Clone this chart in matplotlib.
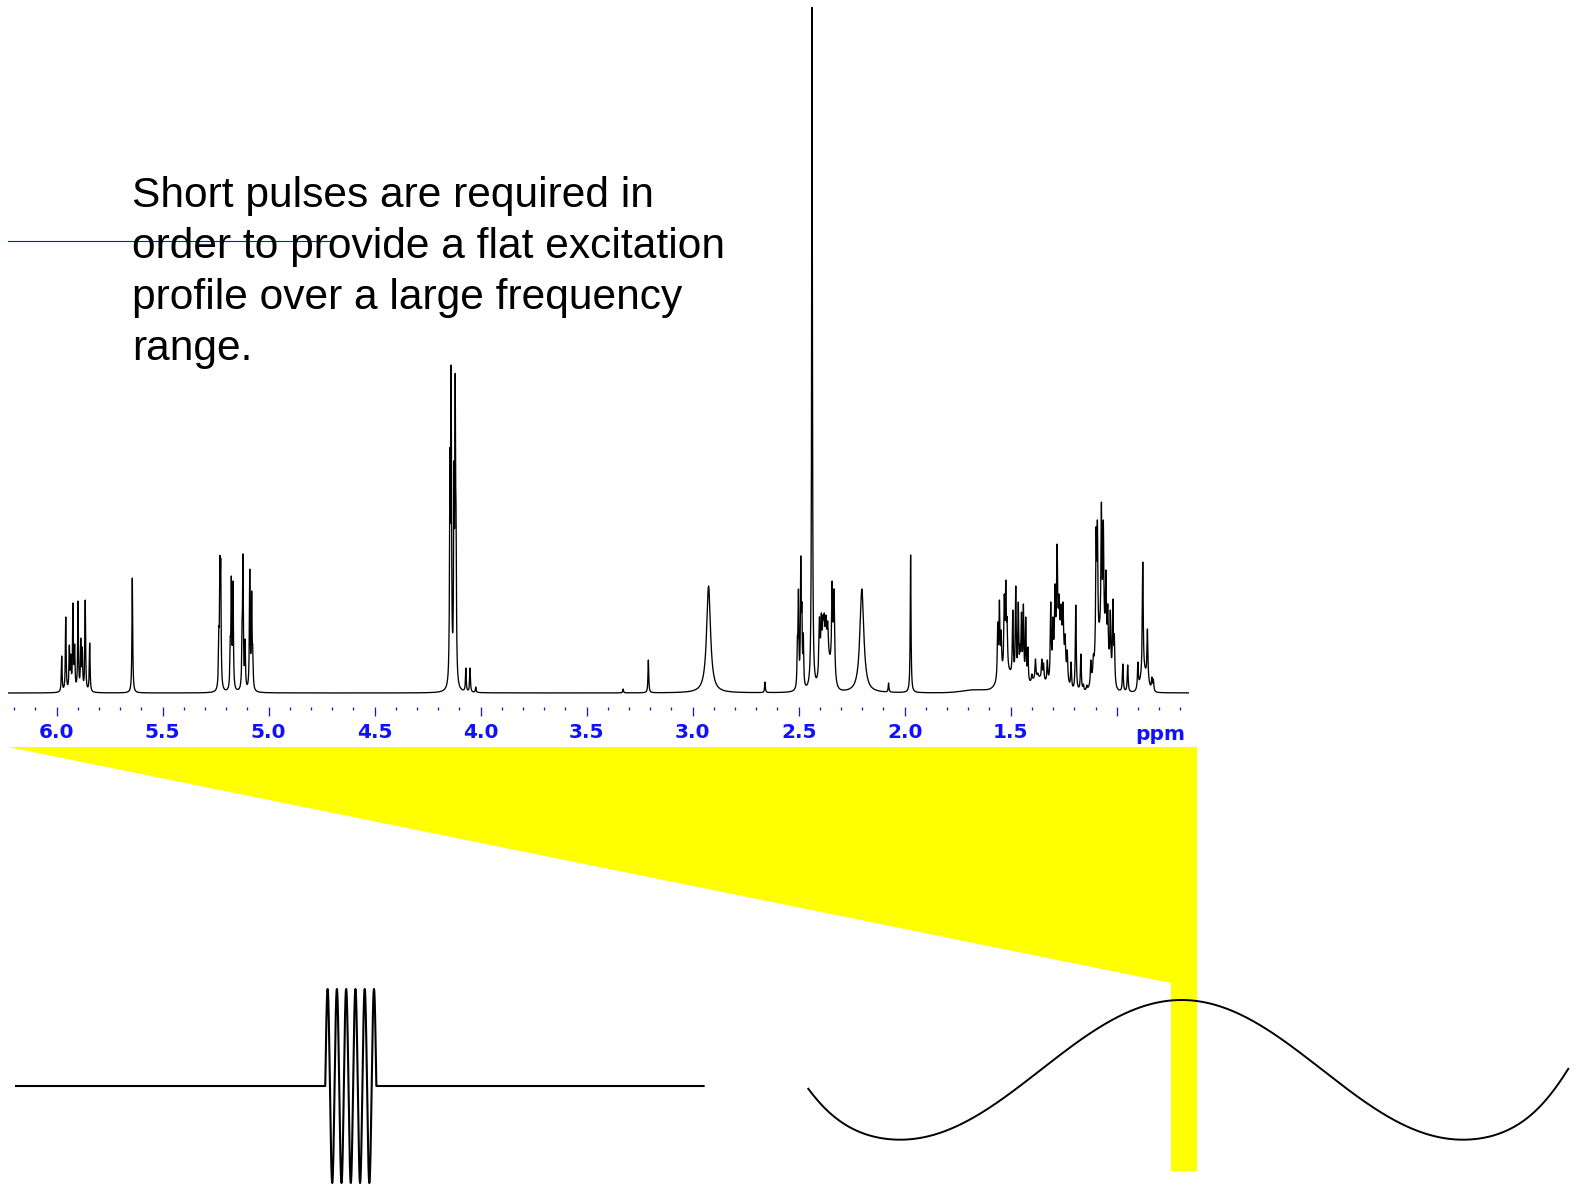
import numpy as np
import matplotlib
matplotlib.use("Agg")
import matplotlib.pyplot as plt
from matplotlib.patches import Polygon

W, H = 1576, 1185

# ---------------------------------------------------------------------------
# 1H NMR spectrum: line positions (ppm) and peak heights (arbitrary units)
# ---------------------------------------------------------------------------
vinyl_ppm = [5.976, 5.957, 5.940, 5.933, 5.923, 5.915, 5.899, 5.886, 5.879, 5.865, 5.844]
vinyl_h = [37, 76, 48, 39, 90, 49, 92, 55, 46, 93, 50]

olefin_ppm = [5.643, 5.235, 5.230, 5.226, 5.181, 5.176, 5.168,
              5.125, 5.121, 5.111, 5.089, 5.080, 5.075]
olefin_h = [115, 66, 137, 134, 56, 117, 112, 79, 139, 54, 124, 102, 48]

ester_ppm = [4.145, 4.139, 4.126, 4.120, 4.116, 4.070, 4.050, 4.023]
ester_h = [245, 328, 232, 320, 185, 25, 25, 6]

mid_ppm = [3.328, 3.209, 2.659, 2.506, 2.501, 2.490, 2.485, 2.478, 2.437,
           2.076, 1.972]
mid_h = [4, 33, 11, 57, 104, 137, 91, 60, 686, 10, 138]

allyl_ppm = [2.402, 2.393, 2.385, 2.379, 2.371, 2.363, 2.342, 2.333]
allyl_h = [76, 80, 78, 80, 78, 72, 112, 104]

broad_ppm = [2.925, 2.202]
broad_h = [107, 104]

alkyl_ppm = [1.561, 1.553, 1.545, 1.530, 1.523, 1.517, 1.490, 1.476, 1.464, 1.456,
             1.449, 1.440, 1.429, 1.419, 1.400, 1.383, 1.372, 1.353, 1.345, 1.327,
             1.311, 1.301, 1.291, 1.281, 1.272, 1.262, 1.253, 1.243, 1.233, 1.215,
             1.193, 1.169, 1.157, 1.141, 1.122, 1.110, 1.097, 1.091, 1.072, 1.063,
             1.051, 1.042, 1.030, 1.018, 1.011, 0.971, 0.948, 0.900, 0.877, 0.855,
             0.834, 0.827]
alkyl_h = [71, 93, 63, 99, 113, 76, 83, 107, 91, 49,
           81, 89, 76, 46, 19, 34, 20, 34, 30, 33,
           91, 76, 109, 149, 99, 89, 91, 59, 43, 31,
           88, 39, 9, 8, 33, 39, 166, 173, 191, 173,
           123, 89, 83, 94, 59, 29, 28, 31, 131, 64,
           16, 14]

# unresolved envelopes under the crowded multiplets
hump_ppm = [2.37, 1.52, 1.37, 1.27, 1.07, 0.87, 1.66]
hump_h = [32, 18, 14, 55, 55, 18, 3]
hump_fwhm = [0.05, 0.08, 0.08, 0.05, 0.06, 0.04, 0.15]

# axis ticks
major_ticks = [6.0, 5.5, 5.0, 4.5, 4.0, 3.5, 3.0, 2.5, 2.0, 1.5, 1.0]
major_labels = ["6.0", "5.5", "5.0", "4.5", "4.0", "3.5", "3.0", "2.5", "2.0", "1.5", ""]
minor_ticks = [round(0.7 + 0.1 * i, 1) for i in range(56)]
ppm_left, ppm_right = 6.228, 0.659

caption_lines = ["Short pulses are required in",
                 "order to provide a flat excitation",
                 "profile over a large frequency",
                 "range."]

# pulse sketch (time domain) and its excitation profile
pulse_on, pulse_off, pulse_cycles = 0.4498, 0.524, 5.5
profile_start, profile_end = -0.163, 1.187   # in cycles of the profile
profile_edge_steepening = 10.0


def lorentz(x, x0, fwhm):
    return 1.0 / (1.0 + ((x - x0) / (fwhm / 2.0)) ** 2)


def gauss(x, x0, fwhm):
    s = fwhm / 2.3548
    return np.exp(-0.5 * ((x - x0) / s) ** 2)


def background(x):
    x = np.asarray(x, dtype=float)
    out = np.zeros_like(x)
    for c, h, w in zip(hump_ppm, hump_h, hump_fwhm):
        out += h * gauss(x, c, w)
    return out


groups = [(vinyl_ppm, vinyl_h, 0.0042), (olefin_ppm, olefin_h, 0.0042),
          (ester_ppm, ester_h, 0.0042), (mid_ppm, mid_h, 0.0042),
          (allyl_ppm, allyl_h, 0.0065), (broad_ppm, broad_h, 0.022),
          (alkyl_ppm, alkyl_h, 0.005)]
centers = np.concatenate([np.array(g[0], float) for g in groups])
heights = np.concatenate([np.array(g[1], float) for g in groups])
widths = np.concatenate([np.full(len(g[0]), g[2]) for g in groups])

# line amplitudes so that the summed spectrum reaches the given peak heights
goal = np.clip(heights - background(centers), 0.5, None)
M = lorentz(centers[:, None], centers[None, :], widths[None, :])
amp = goal.copy()
for _ in range(300):
    amp *= goal / (M @ amp)

ppm = np.linspace(ppm_right, ppm_left, 30000)
spec = background(ppm)
for c, a, w in zip(centers, amp, widths):
    spec += a * lorentz(ppm, c, w)


def px_rect(x0, y0, x1, y1):
    return [x0 / W, 1 - y1 / H, (x1 - x0) / W, (y1 - y0) / H]


fig = plt.figure(figsize=(W / 100, H / 100), dpi=100)
fig.patch.set_facecolor("white")

# overlay in pixel units: yellow wedge, marker line and caption
bg = fig.add_axes([0, 0, 1, 1], zorder=0)
bg.set_xlim(0, W)
bg.set_ylim(H, 0)
bg.axis("off")
wedge = Polygon([(8, 747), (1197.5, 747), (1197.5, 1171), (1171, 1171), (1171, 983)],
                closed=True, facecolor="#ffff00", edgecolor="none")
bg.add_patch(wedge)
for i, line in enumerate(caption_lines):
    bg.text(132, 206.5 + 51.3 * i, line, fontsize=30.6, family="Liberation Sans",
            color="black", ha="left", va="baseline")
bg.plot([8.3, 330], [240.7, 240.7], color="#1010ff", lw=0.8)

# spectrum
ax = fig.add_axes(px_rect(8.3, 0, 1189, 707), zorder=2)
ax.patch.set_alpha(0)
ax.plot(ppm, spec, color="black", lw=0.95)
ax.set_xlim(ppm_left, ppm_right)
ax.set_ylim(-14, 693)
for s in ax.spines.values():
    s.set_visible(False)
ax.set_yticks([])
ax.set_xticks(major_ticks)
ax.set_xticklabels(major_labels)
ax.set_xticks(minor_ticks, minor=True)
ax.tick_params(axis="x", which="major", direction="out", length=6.5, width=0.9,
               color="#1010ff", pad=5.0, labelcolor="#1010ff", labelsize=14.5)
ax.tick_params(axis="x", which="minor", direction="out", length=2.2, width=0.9,
               color="#1010ff")
for lab in ax.get_xticklabels():
    lab.set_fontweight("bold")
    lab.set_family("DejaVu Sans")
fig.text(1160 / W, 1 - 739.5 / H, "ppm", fontsize=14.5, fontweight="bold",
         family="DejaVu Sans", color="#1010ff", ha="center", va="baseline")

# short rf pulse
pax = fig.add_axes(px_rect(16, 989, 703.6, 1183), zorder=2)
pax.axis("off")
t = np.linspace(0, 1, 6000)
inside = (t >= pulse_on) & (t <= pulse_off)
pulse = np.where(inside, np.sin(2 * np.pi * pulse_cycles * (t - pulse_on) / (pulse_off - pulse_on)), 0.0)
pax.plot(t, pulse, color="black", lw=1.5, clip_on=False)
pax.set_xlim(0, 1)
pax.set_ylim(-1, 1)

# excitation profile: cosine, drawn a little steeper beyond the two minima
wax = fig.add_axes(px_rect(808.3, 1000, 1568.3, 1139.7), zorder=2)
wax.axis("off")
wax.patch.set_alpha(0)
c = np.linspace(profile_start, profile_end, 2000)
edge = np.where(c < 0, c, np.where(c > 1, c - 1, 0.0))
c_eff = c + profile_edge_steepening * edge ** 3
wax.plot(c, -np.cos(2 * np.pi * c_eff), color="black", lw=1.4, clip_on=False)
wax.set_xlim(profile_start, profile_end)
wax.set_ylim(-1, 1)

fig.savefig("out.png", dpi=100, facecolor="white")
